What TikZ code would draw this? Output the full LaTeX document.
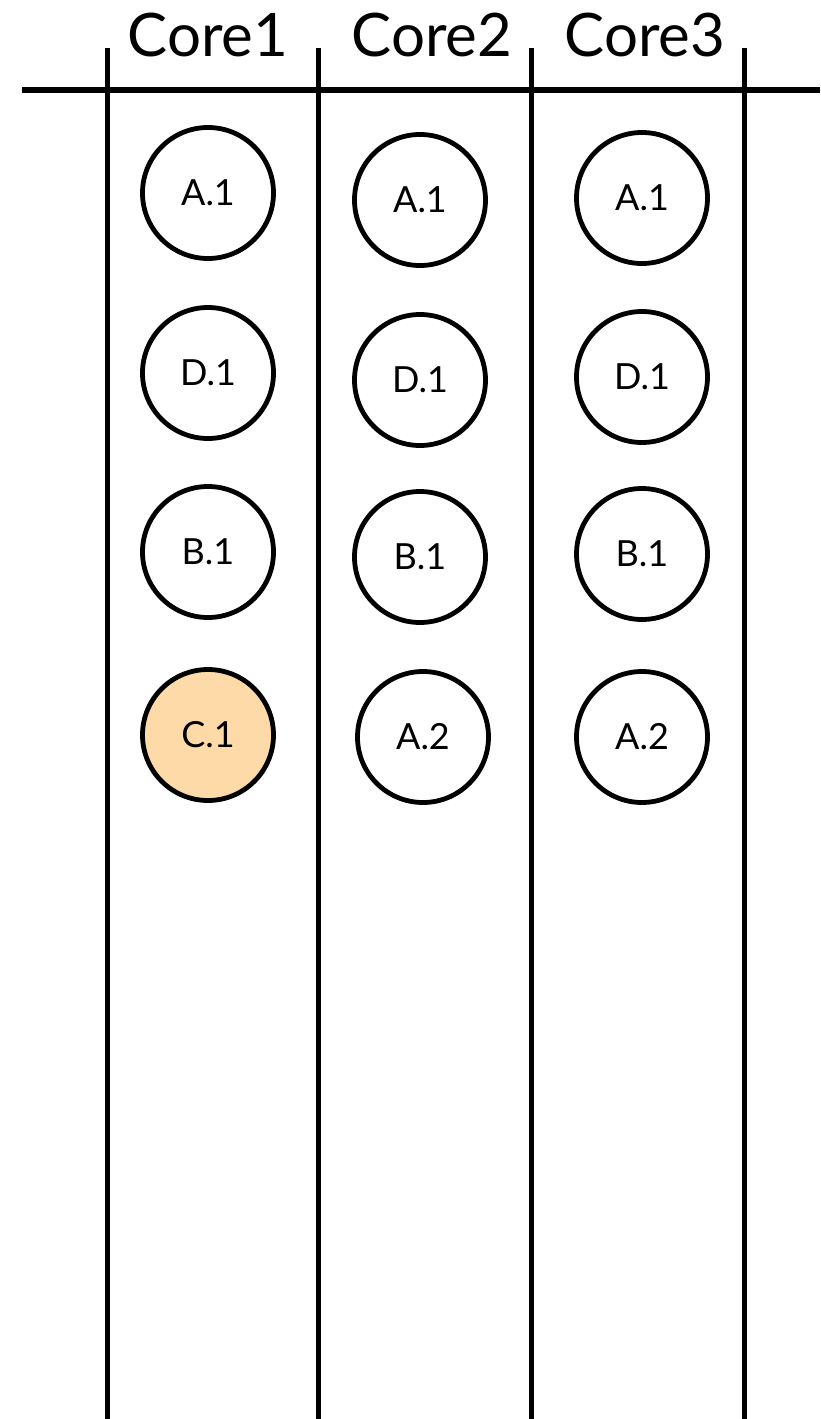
\documentclass[tikz,border=0pt]{standalone}
\usepackage{fontspec}
\setmainfont{Lato}
\definecolor{peach}{RGB}{253,218,168}
\begin{document}
\begin{tikzpicture}[x=1pt,y=-1pt,
  task/.style={circle,draw=black,line width=4.8pt,minimum size=131pt,inner sep=0pt,font=\fontsize{36}{42}\selectfont},
  hot/.style={task,fill=peach},
  header/.style={anchor=base,font=\fontsize{60}{70}\selectfont,inner sep=0pt},
  rule/.style={line width=5pt,draw=black}]
\useasboundingbox (0,0) rectangle (820,1419);
% header
\node[header] (h1) at (208,56) {Core1};
\node[header] (h2) at (432,56) {Core2};
\node[header] (h3) at (645,56) {Core3};
\draw[rule,line width=5.5pt] (22,90) -- (820,90);
\foreach \x in {107,318,531,744} \draw[rule] (\x,48) -- (\x,1419);
% core 1
\node[task] (c1a) at (208,193) {A.1};
\node[task] (c1d) at (208,373) {D.1};
\node[task] (c1b) at (208,552) {B.1};
\node[hot]  (c1c) at (208,735) {C.1};
% core 2
\node[task] (c2a) at (420,200) {A.1};
\node[task] (c2d) at (420,380) {D.1};
\node[task] (c2b) at (420,557) {B.1};
\node[task] (c2e) at (423,737) {A.2};
% core 3
\node[task] (c3a) at (642,198) {A.1};
\node[task] (c3d) at (642,377) {D.1};
\node[task] (c3b) at (642,554) {B.1};
\node[task] (c3e) at (642,737) {A.2};
\end{tikzpicture}
\end{document}
